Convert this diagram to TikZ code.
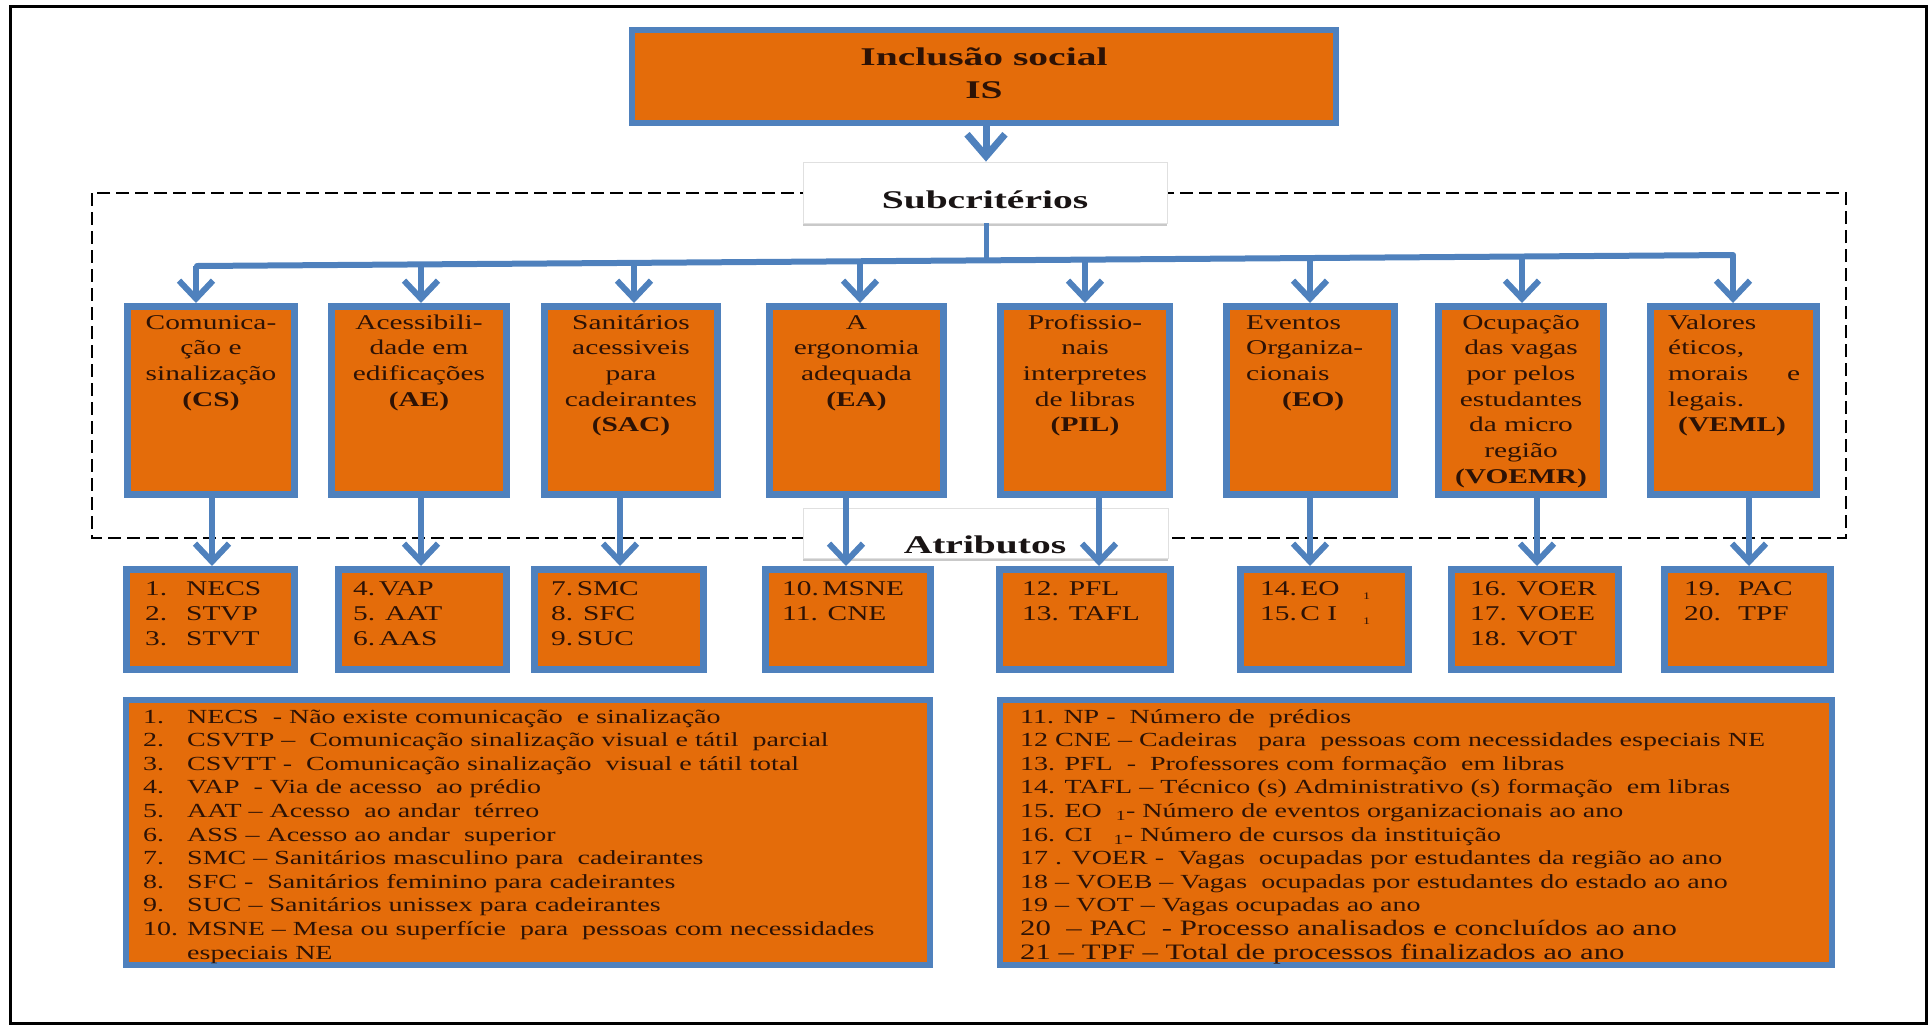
\documentclass[tikz,border=0pt]{standalone}
\usepackage{fontspec}
\setmainfont{Liberation Serif}
\newfontfamily\txtfont[FakeStretch=1.4]{Liberation Serif}
\newfontfamily\hdfont[FakeStretch=1.55]{Liberation Serif}
\usetikzlibrary{arrows.meta,calc,shadows}

\definecolor{boxorange}{RGB}{228,108,10}
\definecolor{boxblue}{RGB}{79,129,189}
\definecolor{inkdark}{RGB}{45,18,5}
\definecolor{inkhead}{RGB}{25,20,20}

\tikzset{
  orangebox/.style={draw=boxblue, line width=7pt, fill=boxorange, inner sep=0pt,
    drop shadow={shadow xshift=0pt, shadow yshift=-3pt, opacity=0.25, fill=black}},
  legendbox/.style={orangebox, line width=6pt},
  whitebox/.style={draw=black!12, line width=0.8pt, fill=white, inner sep=0pt,
    drop shadow={shadow xshift=0pt, shadow yshift=-3pt, opacity=0.3, fill=black!70}},
  txt/.style={inner sep=0pt, text=inkdark},
  link/.style={draw=boxblue, line width=6pt},
  arr/.style={link, -{Straight Barb[length=18pt, width=34pt, line width=6pt]}},
  arrbig/.style={draw=boxblue, line width=7pt, -{Straight Barb[length=22pt, width=38pt, line width=7pt]}},
}

\newcommand{\subtext}{\txtfont\fontsize{21}{25.7}\selectfont}
\newcommand{\attrtext}{\txtfont\fontsize{21}{25}\selectfont}
\newcommand{\legtext}{\txtfont\fontsize{20}{23.6}\selectfont}
\newcommand{\headtext}{\hdfont\bfseries\fontsize{25.5}{33}\selectfont}
\newcommand{\lowone}{{\fontsize{10}{10}\selectfont\raisebox{-4pt}{1}}}

\begin{document}
\begin{tikzpicture}[x=1pt, y=-1pt]
\useasboundingbox (0,0) rectangle (1930,1026);

% outer frame
\draw[black, line width=3pt] (10,6) rectangle (1926,1023);

% dashed frame around the subcriteria
\draw[black, line width=2pt, dash pattern=on 13pt off 6pt] (92,193) rectangle (1846,538);

% header boxes
\node[legendbox, minimum width=704pt, minimum height=93pt] (top) at (984,76.5) {};
\node[whitebox, minimum width=364pt, minimum height=61pt] (subhead) at (985,192.5) {};
\node[whitebox, minimum width=365pt, minimum height=50pt] (atrhead) at (985.5,533) {};

% subcriteria boxes
\foreach \n/\cx/\w in {1/211/167, 2/419/175, 3/631/173, 4/856.5/174,
                       5/1085/169, 6/1310.5/168, 7/1521/165, 8/1733.5/166}
  \node[orangebox, minimum width=\w pt, minimum height=188pt] (sc\n) at (\cx,400.5) {};

% attribute boxes
\foreach \n/\cx/\w in {1/210.5/168, 2/422.5/168, 3/619/169, 4/848/165,
                       5/1085/171, 6/1324.5/168, 7/1535/167, 8/1747.5/166}
  \node[orangebox, minimum width=\w pt, minimum height=100pt] (at\n) at (\cx,619.5) {};

% legend boxes
\node[legendbox, minimum width=804pt, minimum height=265pt] (legL) at (528,832.5) {};
\node[legendbox, minimum width=832pt, minimum height=265pt] (legR) at (1416,832.5) {};

% distribution bar and its branch points
\coordinate (barL) at (197,266);
\coordinate (barR) at (1733,255);
\coordinate (bmid) at (986,260.3);
\coordinate (b1) at (196,266);
\coordinate (b2) at (421,264.4);
\coordinate (b3) at (634,262.9);
\coordinate (b4) at (860,261.3);
\coordinate (b5) at (1085,259.6);
\coordinate (b6) at (1310,258);
\coordinate (b7) at (1522,256.5);
\coordinate (b8) at (1733,255);

% drop points from subcriteria to attributes
\coordinate (d1) at (212,0);
\coordinate (d2) at (421,0);
\coordinate (d3) at (620,0);
\coordinate (d4) at (846,0);
\coordinate (d5) at (1099,0);
\coordinate (d6) at (1310,0);
\coordinate (d7) at (1537,0);
\coordinate (d8) at (1749,0);

% connectors
\draw[arrbig] (top.south -| bmid) -- (subhead.north -| bmid);
\draw[link, line width=5pt] (subhead.south -| bmid) -- (bmid);
\draw[link, line cap=round] (barL) -- (barR);
\foreach \n in {1,...,8}
  \draw[arr] (b\n) -- (sc\n.north -| b\n);
\foreach \n in {1,...,8}
  \draw[arr] (sc\n.south -| d\n) -- (at\n.north -| d\n);

% headings
\node[inner sep=0pt, text=inkdark, anchor=base] (toptext) at (984,65)
  {\begin{minipage}[t]{600pt}\headtext\centering Inclusão social\\IS\end{minipage}};
\node[inner sep=0pt, text=inkhead, anchor=base] (subheadtext) at (985,208) {\headtext Subcritérios};
\node[inner sep=0pt, text=inkhead, anchor=base] (atrheadtext) at (985,553) {\headtext Atributos};

% subcriteria texts
\node[txt, anchor=base] (sct1) at (211,329)
  {\begin{minipage}[t]{160pt}\subtext\centering Comunica-\\ção e\\sinalização\\\textbf{(CS)}\end{minipage}};
\node[txt, anchor=base] (sct2) at (419,329)
  {\begin{minipage}[t]{168pt}\subtext\centering Acessibili-\\dade em\\edificações\\\textbf{(AE)}\end{minipage}};
\node[txt, anchor=base] (sct3) at (631,329)
  {\begin{minipage}[t]{166pt}\subtext\centering Sanitários\\acessiveis\\para\\cadeirantes\\\textbf{(SAC)}\end{minipage}};
\node[txt, anchor=base] (sct4) at (856.5,329)
  {\begin{minipage}[t]{166pt}\subtext\centering A\\ergonomia\\adequada\\\textbf{(EA)}\end{minipage}};
\node[txt, anchor=base] (sct5) at (1085,329)
  {\begin{minipage}[t]{162pt}\subtext\centering Profissio-\\nais\\interpretes\\de libras\\\textbf{(PIL)}\end{minipage}};
\node[txt, anchor=base west] (sct6) at (1246,329)
  {\begin{minipage}[t]{130pt}\subtext Eventos\\Organiza-\\cionais\\\hspace*{36pt}\textbf{(EO)}\end{minipage}};
\node[txt, anchor=base] (sct7) at (1521,329)
  {\begin{minipage}[t]{160pt}\subtext\centering Ocupação\\das vagas\\por pelos\\estudantes\\da micro\\região\\\textbf{(VOEMR)}\end{minipage}};
\node[txt, anchor=base west] (sct8) at (1668,329)
  {\begin{minipage}[t]{132pt}\subtext Valores\\éticos,\\morais\hfill e\\legais.\\\hspace*{10pt}\textbf{(VEML)}\end{minipage}};

% attribute texts
\node[txt, anchor=base west] (att1) at (145,595)
  {\begin{minipage}[t]{150pt}\attrtext\makebox[41pt][l]{1.}NECS\\\makebox[41pt][l]{2.}STVP\\\makebox[41pt][l]{3.}STVT\end{minipage}};
\node[txt, anchor=base west] (att2) at (353,595)
  {\begin{minipage}[t]{150pt}\attrtext 4.\,VAP\\5. AAT\\6.\,AAS\end{minipage}};
\node[txt, anchor=base west] (att3) at (551,595)
  {\begin{minipage}[t]{150pt}\attrtext 7.\,SMC\\8. SFC\\9.\,SUC\end{minipage}};
\node[txt, anchor=base west] (att4) at (782,595)
  {\begin{minipage}[t]{150pt}\attrtext 10.\,MSNE\\11. CNE\end{minipage}};
\node[txt, anchor=base west] (att5) at (1022,595)
  {\begin{minipage}[t]{150pt}\attrtext 12. PFL\\13. TAFL\end{minipage}};
\node[txt, anchor=base west] (att6) at (1260,595)
  {\begin{minipage}[t]{150pt}\attrtext \makebox[103pt][l]{14.\,EO}\lowone\\\makebox[103pt][l]{15.\,C I}\lowone\end{minipage}};
\node[txt, anchor=base west] (att7) at (1470,595)
  {\begin{minipage}[t]{150pt}\attrtext 16. VOER\\17. VOEE\\18. VOT\end{minipage}};
\node[txt, anchor=base west] (att8) at (1684,595)
  {\begin{minipage}[t]{150pt}\attrtext 19.~ PAC\\20.~ TPF\end{minipage}};

% legend texts
\node[txt, anchor=base west] (legLt) at (143,723)
  {\begin{minipage}[t]{780pt}\legtext
   \makebox[44pt][l]{1.}NECS~ - Não existe comunicação~ e sinalização\\
   \makebox[44pt][l]{2.}CSVTP –~ Comunicação sinalização visual e tátil~ parcial\\
   \makebox[44pt][l]{3.}CSVTT -~ Comunicação sinalização~ visual e tátil total\\
   \makebox[44pt][l]{4.}VAP~ - Via de acesso~ ao prédio\\
   \makebox[44pt][l]{5.}AAT – Acesso~ ao andar~ térreo\\
   \makebox[44pt][l]{6.}ASS – Acesso ao andar~ superior\\
   \makebox[44pt][l]{7.}SMC – Sanitários masculino para~ cadeirantes\\
   \makebox[44pt][l]{8.}SFC -~ Sanitários feminino para cadeirantes\\
   \makebox[44pt][l]{9.}SUC – Sanitários unissex para cadeirantes\\
   \makebox[44pt][l]{10.}MSNE – Mesa ou superfície~ para~ pessoas com necessidades\\
   \hspace*{44pt}especiais NE\end{minipage}};
\node[txt, anchor=base west] (legRt) at (1020,723)
  {\begin{minipage}[t]{800pt}\legtext
   11. NP -~ Número de~ prédios\\
   12 CNE – Cadeiras~~ para~ pessoas com necessidades especiais NE\\
   13. PFL~ -~ Professores com formação~ em libras\\
   14. TAFL – Técnico (s) Administrativo (s) formação~ em libras\\
   15. EO~ \textsubscript{1}- Número de eventos organizacionais ao ano\\
   16. CI~~ \textsubscript{1}- Número de cursos da instituição\\
   17 . VOER -~ Vagas~ ocupadas por estudantes da região ao ano\\
   18 – VOEB – Vagas~ ocupadas por estudantes do estado ao ano\\
   19 – VOT – Vagas ocupadas ao ano\\
   \fontsize{22}{23.6}\selectfont
   20~ – PAC~ - Processo analisados e concluídos ao ano\\
   21 – TPF – Total de processos finalizados ao ano\end{minipage}};
\end{tikzpicture}
\end{document}
